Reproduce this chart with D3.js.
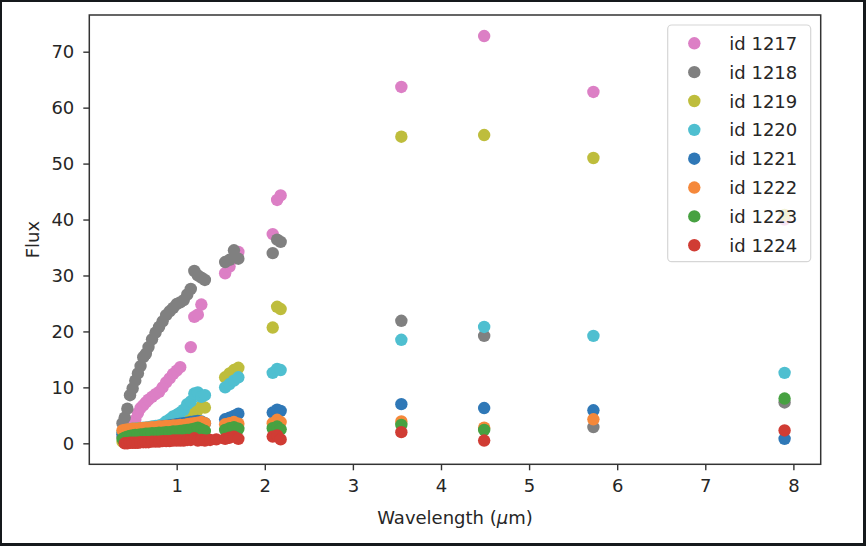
<!DOCTYPE html>
<html><head><meta charset="utf-8">
<script src="https://cdn.jsdelivr.net/npm/d3@7"></script>
<style>
html,body{margin:0;padding:0;background:#fff;}
svg text{font-family:"DejaVu Sans",sans-serif;}
</style></head>
<body><svg id="c" width="866" height="546"></svg>
<script>
// ---- data ----
const wavelength = [0.385,0.41,0.44,0.47,0.50,0.53,0.56,0.59,0.62,0.65,0.68,0.72,0.76,0.80,0.84,0.88,0.92,0.96,1.00,1.04,1.08,1.12,1.16,1.20,1.24,1.28,1.32,1.38,1.45,
  1.55,1.60,1.65,1.70, 2.09,2.14,2.18, 3.55,4.49,5.73,7.90];
const seriesNames = ["id 1217","id 1218","id 1219","id 1220","id 1221","id 1222","id 1223","id 1224"];
const flux1217 = [1.2,1.5,2.0,2.5,3.2,4.2,5.4,6.3,6.8,7.3,7.8,8.3,8.8,9.2,10.0,10.9,11.6,12.4,13.0,13.6,null,null,17.2,22.6,23.0,24.8,null,null,null,
  30.4,31.6,33.0,34.2, 37.4,43.5,44.3, 63.7,72.8,62.8,40.0];
const flux1218 = [3.6,4.6,6.2,8.6,9.8,11.2,12.5,13.8,15.4,16.0,17.2,18.6,19.8,20.8,21.8,22.9,23.6,24.2,24.9,25.2,25.6,26.6,27.6,30.8,30.0,29.6,29.2,null,null,
  32.4,32.8,34.5,33.0, 34.0,36.4,36.0, 21.9,19.2,2.9,7.3];
const flux1219 = [0.3,0.4,0.5,0.6,0.7,0.8,0.9,1.0,1.1,1.2,1.3,1.4,1.5,1.7,1.9,2.1,2.4,2.7,3.0,3.4,3.8,4.3,4.8,5.5,6.0,6.6,6.4,null,null,
  11.8,12.5,13.1,13.5, 20.7,24.4,24.0, 54.8,55.1,51.0,40.8];
const flux1220 = [2.0,2.2,2.4,2.5,2.6,2.6,2.7,2.7,2.8,2.8,2.9,3.0,3.1,3.2,3.4,3.9,4.3,4.8,5.1,5.5,6.0,7.0,7.5,8.9,9.1,8.3,8.6,null,null,
  10.0,10.6,11.2,11.8, 12.6,13.3,13.1, 18.5,20.8,19.2,12.6];
const flux1221 = [1.6,1.8,2.0,2.1,2.2,2.3,2.3,2.4,2.5,2.5,2.6,2.7,2.8,2.9,3.0,3.1,3.2,3.3,3.4,3.5,3.6,3.7,3.8,3.9,4.0,3.9,3.6,null,null,
  4.3,4.6,4.9,5.3, 5.5,6.0,5.8, 7.0,6.3,5.9,0.8];
const flux1222 = [2.3,2.4,2.5,2.5,2.6,2.6,2.6,2.7,2.7,2.8,2.8,2.9,2.9,3.0,3.0,3.1,3.1,3.2,3.2,3.3,3.3,3.4,3.5,3.6,3.7,3.8,3.6,null,null,
  3.4,3.6,3.8,3.5, 3.6,4.2,3.8, 3.9,2.8,4.3,null];
const flux1223 = [0.8,1.0,1.2,1.3,1.4,1.5,1.5,1.6,1.6,1.7,1.7,1.8,1.8,1.9,1.9,2.0,2.0,2.1,2.1,2.2,2.3,2.4,2.5,2.6,2.8,2.5,2.2,null,null,
  2.4,2.7,2.9,2.6, 2.7,3.0,2.5, 3.3,2.4,null,8.0];
const flux1224 = [null,0.0,0.0,0.1,0.1,0.1,0.1,0.2,0.2,0.2,0.2,0.3,0.3,0.3,0.4,0.4,0.4,0.5,0.5,0.5,0.5,0.6,0.6,0.9,0.5,0.6,0.5,0.6,0.7,
  0.8,1.0,1.2,0.8, 1.2,1.4,0.7, 2.0,0.5,null,2.3];
const fluxes = [flux1217,flux1218,flux1219,flux1220,flux1221,flux1222,flux1223,flux1224];
const colors = ["#dc7fc5","#808080","#bebd3c","#4fbfd0","#2f78b7","#f5883a","#47a141","#d03c34"];
const xTicks = [1,2,3,4,5,6,7,8];
const yTicks = [0,10,20,30,40,50,60,70];

// ---- layout ----
const svg = d3.select("#c");
const W=866,H=546;
const L=89.3,R=820.7,T=15,B=464.3;
svg.append("rect").attr("width",W).attr("height",H).attr("fill","#15191c");
svg.append("rect").attr("x",2).attr("y",2).attr("width",W-5).attr("height",H-5).attr("fill","#fff");

const x = d3.scaleLinear().domain([0.008,8.31]).range([L,R]);
const y = d3.scaleLinear().domain([-3.75,76.56]).range([B,T]);

const g = svg.append("g");
fluxes.forEach((arr,si)=>{
  const pts = wavelength.map((w,i)=>({w,v:arr[i]})).filter(d=>d.v!=null);
  g.append("g").selectAll("circle").data(pts).join("circle")
    .attr("cx",d=>x(d.w)).attr("cy",d=>y(d.v)).attr("r",6.2)
    .attr("fill",colors[si]);
});

// axes
const xa = svg.append("g").attr("transform",`translate(0,${B})`)
  .call(d3.axisBottom(x).tickValues(xTicks).tickFormat(d3.format("d")).tickSize(6).tickPadding(9));
const ya = svg.append("g").attr("transform",`translate(${L},0)`)
  .call(d3.axisLeft(y).tickValues(yTicks).tickFormat(d3.format("d")).tickSize(6).tickPadding(9));
[xa,ya].forEach(a=>{
  a.select(".domain").remove();
  a.selectAll("line").attr("stroke","#333").attr("stroke-width",1.4);
  a.selectAll("text").attr("fill","#262626").style("font-size","18px");
});
svg.append("rect").attr("x",L).attr("y",T).attr("width",R-L).attr("height",B-T)
  .attr("fill","none").attr("stroke","#333").attr("stroke-width",1.5);

// labels
const xl = svg.append("text").attr("x",(L+R)/2).attr("y",524).attr("text-anchor","middle")
  .attr("fill","#262626").style("font-size","18px");
xl.append("tspan").text("Wavelength (");
xl.append("tspan").attr("font-style","italic").text("μ");
xl.append("tspan").text("m)");
svg.append("text").attr("transform",`translate(39,${(T+B)/2}) rotate(-90)`).attr("text-anchor","middle")
  .attr("fill","#262626").style("font-size","18px").text("Flux");

// legend
const lg = svg.append("g");
lg.append("rect").attr("x",667.7).attr("y",25).attr("width",143).attr("height",236.7).attr("rx",4)
  .attr("fill","#fff").attr("fill-opacity",0.8).attr("stroke","#d6d6d6").attr("stroke-width",1.2);
seriesNames.forEach((n,i)=>{
  const cy = 43.3 + i*28.85;
  lg.append("circle").attr("cx",694.3).attr("cy",cy).attr("r",6.2).attr("fill",colors[i]);
  lg.append("text").attr("x",729.3).attr("y",cy+6.6).attr("fill","#262626").style("font-size","18px").text(n);
});
</script></body></html>
